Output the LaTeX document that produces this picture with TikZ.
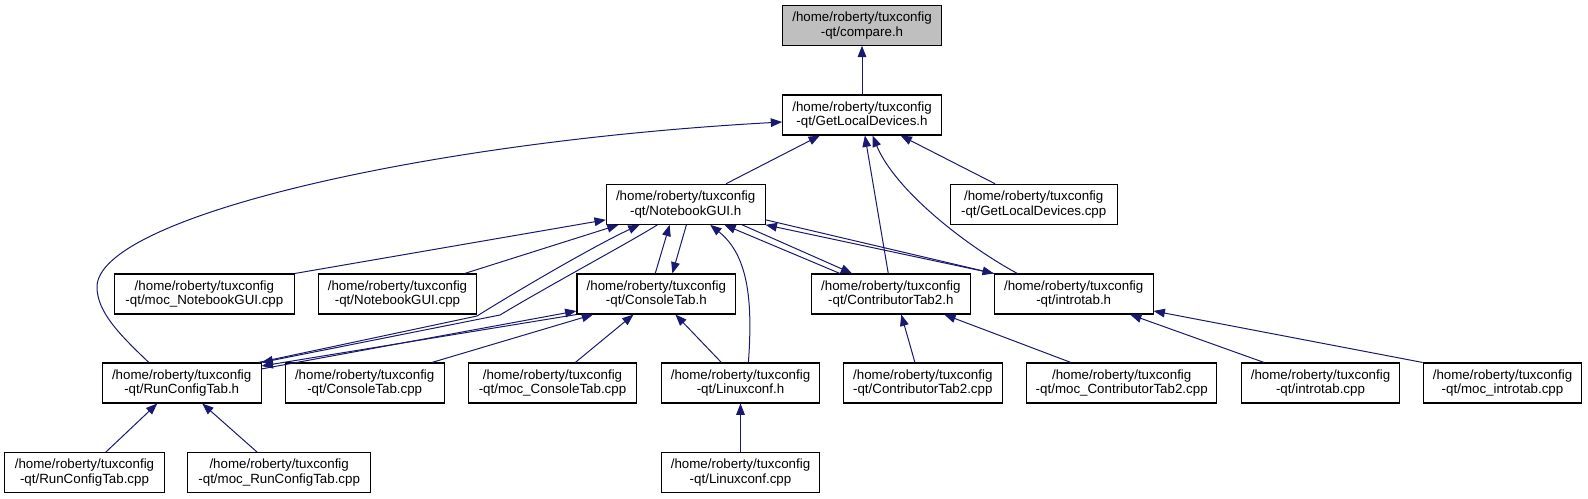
\documentclass[tikz,border=0pt]{standalone}
\usepackage{fontspec}
\setmainfont{Liberation Sans}
\usetikzlibrary{arrows.meta}
\definecolor{edgeblue}{HTML}{191970}
\definecolor{rootgray}{HTML}{BFBFBF}
\tikzset{
  file/.style={draw=black, line width=0.8pt, fill=white, minimum width=119pt,
    minimum height=30pt, inner sep=0pt, align=center,
    font=\fontsize{10}{11}\selectfont},
  inc/.style={draw=edgeblue, line width=0.75pt,
    -{Triangle[length=8.5pt,width=6.5pt]}}
}
\begin{document}
\begin{tikzpicture}[x=0.75pt, y=-0.75pt]
\useasboundingbox (0,0) rectangle (1588,499);
% files
\node[file, fill=rootgray] (cmp) at (862,25.3) {/home/roberty/tuxconfig\\-qt/compare.h};
\node[file] (gldh) at (862,115) {/home/roberty/tuxconfig\\-qt/GetLocalDevices.h};
\node[file] (ngui) at (685.7,204.3) {/home/roberty/tuxconfig\\-qt/NotebookGUI.h};
\node[file, minimum width=125.3pt] (gldc) at (1033.7,204.3) {/home/roberty/tuxconfig\\-qt/GetLocalDevices.cpp};
\node[file, minimum width=135pt] (mngui) at (204.4,294) {/home/roberty/tuxconfig\\-qt/moc\_NotebookGUI.cpp};
\node[file] (nguic) at (397.5,294) {/home/roberty/tuxconfig\\-qt/NotebookGUI.cpp};
\node[file] (cth) at (656.3,294) {/home/roberty/tuxconfig\\-qt/ConsoleTab.h};
\node[file] (ct2h) at (890.8,294) {/home/roberty/tuxconfig\\-qt/ContributorTab2.h};
\node[file] (ith) at (1073.7,294) {/home/roberty/tuxconfig\\-qt/introtab.h};
\node[file] (rch) at (181.7,383) {/home/roberty/tuxconfig\\-qt/RunConfigTab.h};
\node[file] (ctc) at (364.7,383) {/home/roberty/tuxconfig\\-qt/ConsoleTab.cpp};
\node[file, minimum width=126.3pt] (mctc) at (552.5,383) {/home/roberty/tuxconfig\\-qt/moc\_ConsoleTab.cpp};
\node[file] (lxh) at (740.5,383) {/home/roberty/tuxconfig\\-qt/Linuxconf.h};
\node[file] (ct2c) at (922.8,383) {/home/roberty/tuxconfig\\-qt/ContributorTab2.cpp};
\node[file, minimum width=142.5pt] (mct2c) at (1121.7,383) {/home/roberty/tuxconfig\\-qt/moc\_ContributorTab2.cpp};
\node[file] (itc) at (1320.5,383) {/home/roberty/tuxconfig\\-qt/introtab.cpp};
\node[file] (mitc) at (1502.5,383) {/home/roberty/tuxconfig\\-qt/moc\_introtab.cpp};
\node[file, minimum width=120pt] (rcc) at (84.5,472.7) {/home/roberty/tuxconfig\\-qt/RunConfigTab.cpp};
\node[file, minimum width=137.3pt] (mrcc) at (279.2,472.7) {/home/roberty/tuxconfig\\-qt/moc\_RunConfigTab.cpp};
\node[file] (lxc) at (740.5,472.7) {/home/roberty/tuxconfig\\-qt/Linuxconf.cpp};
% includes
\draw[inc] (gldh) -- (cmp);
\draw[inc] (ngui.27) -- (gldh.206);
\draw[inc] (gldc.152) -- (gldh.332);
\draw[inc] (rch.148) .. controls (120,335) and (97,312) .. (97,287)
  .. controls (97,218) and (420,142) .. (gldh.185);
\draw[inc] (ct2h.97) -- (gldh.278);
\draw[inc] (ith.160) .. controls (965,245) and (895,190) .. (gldh.297);
\draw[inc] (mngui.north east) -- (ngui.191);
\draw[inc] (nguic.17) -- (ngui.197);
\draw[inc] (rch.15) -- (477,316) .. controls (530,283) and (600,243) .. (ngui.204);
\draw[inc] (cth.93) -- (ngui.232);
\draw[inc] (lxh.69) .. controls (753,300) and (748,255) .. (ngui.320);
\draw[inc] (ct2h.158) -- (ngui.332);
\draw[inc] (ith.north west) -- (ngui.south east);
\draw[inc] (ngui.216) .. controls (630,242) and (550,285) .. (500,315) -- (rch.north east);
\draw[inc] (cth.south west) -- (rch.12);
\draw[inc] (rch.10) -- (cth.192);
\draw[inc] (ctc.17) -- (cth.198);
\draw[inc] (mctc.42) -- (cth.222);
\draw[inc] (lxh.133) -- (cth.313);
\draw[inc] (ngui.272) -- (cth.52);
\draw[inc] (ngui.340) -- (ct2h.152);
\draw[inc] (ct2c.111) -- (ct2h.297);
\draw[inc] (mct2c.158) -- (ct2h.339);
\draw[inc] (ngui.349) -- (ith.north west);
\draw[inc] (itc.160) -- (ith.340);
\draw[inc] (mitc.north west) -- (ith.348);
\draw[inc] (rcc.44) -- (rch.220);
\draw[inc] (mrcc.137) -- (rch.315);
\draw[inc] (lxc) -- (lxh);
\end{tikzpicture}
\end{document}
